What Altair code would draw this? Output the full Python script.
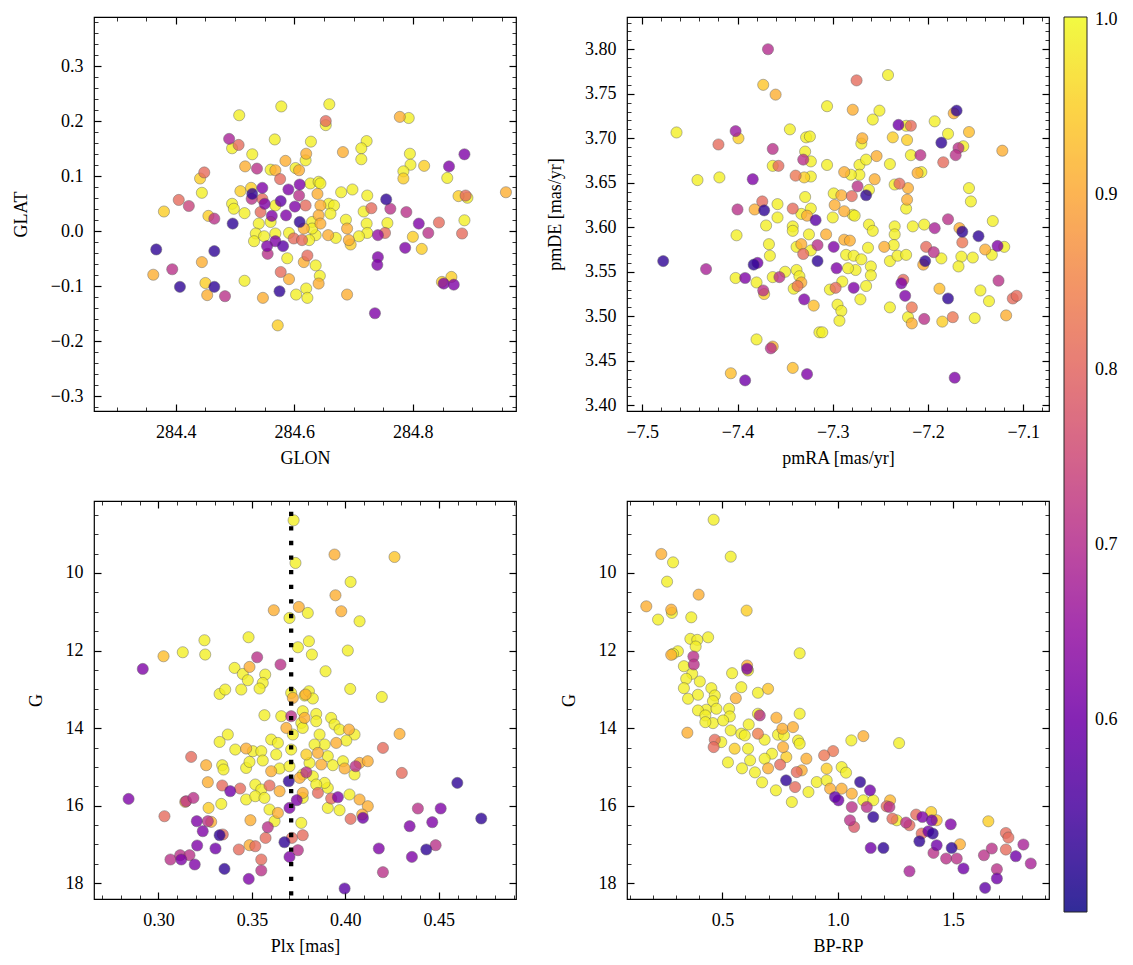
import altair as alt
import pandas as pd

FONT = "Liberation Serif"
FS = 18

# ---------------- panel 1: sky positions ----------------
glon = [284.578, 284.507, 284.490, 284.506, 284.495, 284.567, 284.529, 284.517, 284.537, 284.560,
        284.568, 284.585, 284.602, 284.608, 284.620, 284.619, 284.448, 284.441, 284.444, 284.576,
        284.405, 284.422, 284.380, 284.455, 284.465, 284.496, 284.509, 284.527, 284.529, 284.546,
        284.528, 284.546, 284.550, 284.495, 284.498, 284.516, 284.543, 284.562, 284.568, 284.577,
        284.590, 284.609, 284.608, 284.601, 284.586, 284.609, 284.619, 284.540, 284.560, 284.535,
        284.532, 284.549, 284.568, 284.591, 284.599, 284.613, 284.568, 284.554, 284.581, 284.555,
        284.588, 284.616, 284.622, 284.367, 284.465, 284.444, 284.394, 284.362, 284.577, 284.591,
        284.407, 284.450, 284.465, 284.453, 284.483, 284.516, 284.547, 284.575, 284.603, 284.620,
        284.572, 284.659, 284.653, 284.653, 284.628, 284.682, 284.722, 284.713, 284.713, 284.778,
        284.793, 284.795, 284.796, 284.819, 284.784, 284.784, 284.887, 284.861, 284.858, 284.957,
        284.877, 284.889, 284.892, 284.887, 284.883, 284.679, 284.698, 284.723, 284.755, 284.762,
        284.730, 284.717, 284.789, 284.810, 284.826, 284.844, 284.757, 284.753, 284.741, 284.722,
        284.723, 284.709, 284.687, 284.689, 284.692, 284.695, 284.670, 284.657, 284.800, 284.787,
        284.815, 284.741, 284.740, 284.636, 284.643, 284.641, 284.622, 284.689, 284.736, 284.865,
        284.852, 284.869, 284.849, 284.627, 284.641, 284.644, 284.639, 284.644, 284.658, 284.667,
        284.661, 284.641, 284.644, 284.630, 284.636, 284.616, 284.630, 284.625]
glat = [0.227, 0.211, 0.168, 0.157, 0.151, 0.167, 0.140, 0.118, 0.114, 0.112,
        0.111, 0.128, 0.115, 0.111, 0.141, 0.129, 0.107, 0.096, 0.070, 0.095,
        0.057, 0.046, 0.036, 0.028, 0.023, 0.014, 0.073, 0.079, 0.068, 0.079,
        0.059, 0.059, 0.050, 0.050, 0.041, 0.033, 0.035, 0.028, 0.047, 0.055,
        0.076, 0.085, 0.065, 0.045, 0.029, 0.017, 0.047, 0.014, 0.017, -0.004,
        -0.018, -0.009, -0.004, -0.003, -0.013, -0.016, -0.018, -0.027, -0.027, -0.041,
        -0.049, -0.056, -0.044, -0.033, -0.036, -0.056, -0.069, -0.079, -0.074, -0.087,
        -0.101, -0.094, -0.101, -0.116, -0.118, -0.090, -0.121, -0.109, -0.115, -0.104,
        -0.171, 0.231, 0.2005, 0.193, 0.163, 0.144, 0.164, 0.151, 0.131, 0.208,
        0.206, 0.141, 0.121, 0.119, 0.109, 0.096, 0.140, 0.118, 0.097, 0.071,
        0.064, 0.065, 0.061, 0.020, -0.004, 0.071, 0.076, 0.065, 0.058, 0.041,
        0.042, 0.036, 0.035, 0.014, -0.003, 0.016, 0.015, -0.003, -0.007, 0.014,
        -0.003, -0.009, 0.021, 0.005, -0.016, -0.024, -0.012, -0.007, -0.010, -0.030,
        -0.032, -0.047, -0.061, -0.062, -0.081, -0.095, -0.121, -0.115, -0.149, -0.083,
        -0.095, -0.097, -0.092, 0.087, 0.090, 0.087, 0.068, 0.047, 0.050, 0.047,
        0.032, 0.029, 0.014, 0.017, -0.007, 0.005, 0.005, -0.016]
p_sky = [.99, .99, .68, .81, .99, .99, .99, .91, .71, .99,
         .91, .91, .99, .91, .91, .99, .81, .95, .99, .81,
         .81, .74, .95, .95, .71, .52, .95, .95, .52, .62,
         .71, .81, .62, .99, .99, .99, .81, .62, .99, .58,
         .62, .62, .71, .62, .62, .52, .81, .99, .99, .99,
         .99, .99, .99, .99, .81, .81, .62, .62, .57, .71,
         .99, .91, .81, .52, .52, .91, .71, .91, .81, .91,
         .52, .95, .52, .91, .71, .99, .91, .52, .99, .99,
         .95, .99, .81, .99, .99, .91, .99, .99, .99, .91,
         .99, .99, .99, .95, .99, .95, .62, .62, .99, .91,
         .95, .81, .99, .99, .81, .99, .99, .99, .52, .71,
         .81, .99, .71, .62, .71, .81, .99, .81, .65, .99,
         .99, .99, .99, .91, .91, .95, .99, .91, .95, .62,
         .95, .62, .62, .99, .99, .91, .99, .91, .62, .95,
         .62, .62, .95, .99, .99, .99, .91, .91, .99, .99,
         .99, .91, .91, .99, .99, .91, .99, .99]

# ---------------- panel 2: proper motions ----------------
pmra = [-7.464, -7.368, -7.373, -7.360, -7.402, -7.399, -7.420, -7.442, -7.419, -7.384,
        -7.363, -7.345, -7.328, -7.324, -7.363, -7.357, -7.329, -7.331, -7.323, -7.339,
        -7.330, -7.323, -7.329, -7.400, -7.382, -7.374, -7.372, -7.358, -7.358, -7.370,
        -7.342, -7.333, -7.327, -7.323, -7.318, -7.342, -7.478, -7.433, -7.401, -7.402,
        -7.392, -7.383, -7.379, -7.367, -7.366, -7.380, -7.372, -7.373, -7.363, -7.356,
        -7.350, -7.342, -7.338, -7.333, -7.331, -7.325, -7.323, -7.316, -7.316, -7.338,
        -7.335, -7.333, -7.341, -7.337, -7.330, -7.320, -7.314, -7.380, -7.363, -7.365,
        -7.407, -7.392, -7.342, -7.327, -7.275, -7.242, -7.306, -7.279, -7.251, -7.258,
        -7.231, -7.223, -7.218, -7.170, -7.173, -7.193, -7.179, -7.157, -7.186, -7.168,
        -7.163, -7.171, -7.184, -7.122, -7.269, -7.270, -7.237, -7.222, -7.218, -7.208,
        -7.306, -7.288, -7.272, -7.265, -7.254, -7.240, -7.256, -7.272, -7.281, -7.274,
        -7.265, -7.262, -7.280, -7.291, -7.298, -7.288, -7.279, -7.299, -7.235, -7.230,
        -7.221, -7.222, -7.223, -7.211, -7.207, -7.157, -7.155, -7.132, -7.179, -7.193,
        -7.204, -7.216, -7.235, -7.262, -7.167, -7.164, -7.300, -7.277, -7.307, -7.299,
        -7.296, -7.288, -7.282, -7.286, -7.278, -7.276, -7.284, -7.258, -7.263, -7.270,
        -7.260, -7.260, -7.265, -7.271, -7.278, -7.297, -7.303, -7.290, -7.295, -7.291,
        -7.293, -7.311, -7.246, -7.235, -7.236, -7.240, -7.232, -7.223, -7.240, -7.226,
        -7.228, -7.224, -7.217, -7.221, -7.217, -7.204, -7.202, -7.194, -7.203, -7.205,
        -7.186, -7.185, -7.188, -7.179, -7.174, -7.164, -7.165, -7.168, -7.153, -7.147,
        -7.140, -7.133, -7.127, -7.120, -7.126, -7.145, -7.136, -7.151, -7.118, -7.111,
        -7.107, -7.172]
pmde = [3.7065, 3.800, 3.760, 3.749, 3.708, 3.700, 3.693, 3.653, 3.656, 3.654,
        3.688, 3.710, 3.701, 3.702, 3.669, 3.669, 3.685, 3.676, 3.674, 3.658,
        3.656, 3.657, 3.634, 3.620, 3.620, 3.629, 3.619, 3.626, 3.611, 3.602,
        3.621, 3.615, 3.613, 3.621, 3.608, 3.601, 3.562, 3.553, 3.591, 3.543,
        3.543, 3.558, 3.560, 3.581, 3.568, 3.538, 3.525, 3.529, 3.544, 3.544,
        3.550, 3.596, 3.578, 3.581, 3.570, 3.592, 3.574, 3.580, 3.562, 3.552,
        3.545, 3.538, 3.531, 3.534, 3.519, 3.512, 3.482, 3.474, 3.466, 3.464,
        3.436, 3.428, 3.442, 3.435, 3.765, 3.771, 3.736, 3.732, 3.731, 3.721,
        3.715, 3.714, 3.714, 3.731, 3.728, 3.719, 3.705, 3.707, 3.695, 3.689,
        3.691, 3.681, 3.673, 3.686, 3.700, 3.694, 3.701, 3.698, 3.681, 3.681,
        3.670, 3.662, 3.670, 3.676, 3.680, 3.671, 3.654, 3.659, 3.659, 3.646,
        3.636, 3.642, 3.635, 3.636, 3.625, 3.618, 3.614, 3.638, 3.648, 3.649,
        3.644, 3.631, 3.621, 3.661, 3.662, 3.644, 3.629, 3.607, 3.609, 3.599,
        3.603, 3.601, 3.601, 3.603, 3.599, 3.595, 3.611, 3.613, 3.592, 3.578,
        3.554, 3.586, 3.585, 3.569, 3.568, 3.552, 3.554, 3.596, 3.577, 3.564,
        3.556, 3.546, 3.534, 3.519, 3.532, 3.532, 3.530, 3.539, 3.513, 3.506,
        3.495, 3.482, 3.578, 3.592, 3.580, 3.562, 3.568, 3.569, 3.510, 3.541,
        3.537, 3.523, 3.510, 3.499, 3.492, 3.497, 3.578, 3.572, 3.562, 3.558,
        3.565, 3.494, 3.531, 3.520, 3.499, 3.583, 3.567, 3.556, 3.566, 3.590,
        3.575, 3.569, 3.579, 3.578, 3.540, 3.529, 3.517, 3.498, 3.501, 3.520,
        3.523, 3.431]
p_pm = [.99, .70, .94, .91, .66, .95, .81, .99, .99, .62,
        .71, .99, .99, .99, .99, .81, .99, .71, .99, .83,
        .95, .99, .99, .71, .91, .81, .52, .99, .99, .99,
        .81, .99, .91, .99, .57, .99, .52, .68, .99, .99,
        .62, .52, .60, .99, .99, .99, .95, .71, .99, .71,
        .99, .99, .99, .91, .81, .99, .99, .71, .52, .99,
        .99, .91, .99, .83, .62, .93, .99, .99, .91, .71,
        .93, .60, .93, .62, .81, .99, .99, .91, .99, .99,
        .60, .99, .81, .52, .91, .99, .99, .93, .52, .71,
        .99, .71, .81, .91, .91, .99, .95, .95, .99, .71,
        .99, .91, .99, .99, .91, .99, .91, .99, .99, .71,
        .52, .99, .81, .91, .91, .91, .99, .99, .99, .81,
        .91, .91, .99, .91, .99, .99, .99, .99, .71, .68,
        .99, .99, .99, .99, .91, .52, .99, .99, .91, .62,
        .62, .91, .91, .99, .99, .99, .99, .99, .99, .99,
        .99, .99, .99, .99, .62, .81, .99, .99, .99, .99,
        .99, .99, .91, .99, .99, .99, .99, .99, .99, .81,
        .62, .62, .83, .99, .91, .71, .81, .71, .52, .91,
        .99, .95, .93, .52, .83, .83, .99, .99, .99, .52,
        .91, .99, .62, .99, .71, .99, .99, .99, .91, .81,
        .81, .62]

# ---------------- panel 3: parallax vs G ----------------
plx = [0.3723, 0.3733, 0.3617, 0.3751, 0.3701, 0.3799, 0.3246, 0.3482, 0.3746, 0.3805,
       0.3027, 0.3130, 0.3250, 0.2916, 0.3528, 0.3653, 0.3487, 0.3407, 0.3451, 0.3571,
       0.3478, 0.3558, 0.3443, 0.3541, 0.3327, 0.3357, 0.3710, 0.3719, 0.3782, 0.3805,
       0.3567, 0.3657, 0.3710, 0.3684, 0.3719, 0.3764, 0.3787, 0.3772, 0.3371, 0.3327,
       0.3411, 0.3469, 0.3505, 0.3550, 0.3603, 0.3639, 0.3630, 0.3710, 0.3175, 0.3255,
       0.3341, 0.3348, 0.3469, 0.3487, 0.3558, 0.3603, 0.3648, 0.3701, 0.3772, 0.3791,
       0.3264, 0.3341, 0.3384, 0.3437, 0.3518, 0.3550, 0.3594, 0.3648, 0.3697, 0.3755,
       0.3469, 0.3518, 0.3567, 0.3143, 0.3148, 0.3187, 0.2840, 0.3268, 0.3336, 0.3594,
       0.3639, 0.3701, 0.3740, 0.3772, 0.3032, 0.3205, 0.3264, 0.3282, 0.3237, 0.3327,
       0.3344, 0.3492, 0.3585, 0.3573, 0.3621, 0.3714, 0.3764, 0.3772, 0.3674, 0.3701,
       0.3746, 0.3207, 0.3305, 0.3430, 0.3487, 0.3518, 0.3064, 0.3116, 0.3122, 0.3166,
       0.3194, 0.3353, 0.3550, 0.3550, 0.3483, 0.3942, 0.4263, 0.4028, 0.3947, 0.3978,
       0.4076, 0.3821, 0.4013, 0.3894, 0.4026, 0.4195, 0.3826, 0.3782, 0.3844, 0.3844,
       0.3772, 0.3924, 0.3942, 0.3969, 0.4019, 0.4049, 0.3862, 0.4005, 0.3951, 0.3889,
       0.3835, 0.4290, 0.4201, 0.3791, 0.3853, 0.3906, 0.3808, 0.3871, 0.3933, 0.3987,
       0.3996, 0.4055, 0.4076, 0.4120, 0.4049, 0.3826, 0.4302, 0.3772, 0.3853, 0.3906,
       0.3924, 0.3960, 0.3889, 0.3844, 0.3906, 0.3969, 0.4022, 0.4076, 0.4120, 0.4090,
       0.4094, 0.4028, 0.4599, 0.4727, 0.4388, 0.4510, 0.4344, 0.4465, 0.4483, 0.4433,
       0.4356, 0.4179, 0.4201, 0.3996]
g_plx = [8.642, 9.742, 10.961, 10.876, 11.160, 11.031, 11.735, 11.657, 11.915, 11.760,
         12.147, 12.044, 12.103, 12.474, 12.173, 12.361, 12.423, 12.448, 12.603, 12.619,
         12.765, 12.835, 13.005, 12.979, 13.119, 13.005, 13.093, 13.222, 13.160, 13.049,
         13.667, 13.693, 13.693, 13.995, 14.165, 13.866, 13.134, 13.564, 14.165, 14.356,
         14.552, 14.526, 14.595, 14.595, 14.294, 14.381, 14.680, 14.552, 14.742, 14.956,
         14.956, 15.067, 15.026, 14.871, 14.835, 15.111, 15.041, 14.982, 15.196, 15.137,
         15.394, 15.479, 15.626, 15.557, 15.454, 15.582, 15.479, 15.626, 15.369, 15.283,
         15.840, 15.755, 15.799, 15.902, 15.884, 15.799, 15.825, 16.057, 15.954, 16.098,
         16.186, 16.057, 15.858, 15.799, 16.271, 16.399, 16.399, 16.417, 16.657, 16.760,
         16.742, 16.374, 16.554, 16.830, 16.399, 16.830, 16.443, 16.760, 16.941, 17.320,
         17.147, 17.026, 17.103, 17.129, 17.018, 17.044, 17.387, 17.276, 17.387, 17.276,
         17.515, 17.629, 17.387, 17.670, 17.887, 9.526, 9.588, 10.232, 10.575, 10.987,
         11.245, 12.103, 12.000, 12.534, 12.990, 13.196, 13.237, 13.737, 13.634, 13.822,
         13.995, 13.737, 13.907, 14.036, 14.036, 14.165, 14.165, 14.320, 14.381, 14.423,
         14.423, 14.149, 14.510, 14.680, 14.639, 14.724, 14.897, 14.938, 14.956, 14.853,
         15.041, 14.982, 14.897, 14.853, 15.196, 15.240, 15.155, 15.670, 15.670, 15.541,
         15.814, 15.781, 15.412, 15.454, 16.057, 16.116, 15.711, 15.840, 16.013, 16.227,
         16.314, 16.340, 15.412, 16.330, 16.072, 16.072, 16.528, 16.425, 17.018, 17.129,
         17.320, 17.103, 17.714, 18.134]
p_plx = [.99, .99, .91, .91, .99, .99, .99, .99, .99, .99,
         .93, .99, .99, .62, .71, .71, .91, .99, .99, .99,
         .99, .99, .99, .99, .99, .99, .99, .91, .99, .99,
         .99, .99, .71, .91, .99, .99, .91, .99, .99, .99,
         .99, .91, .99, .99, .99, .99, .99, .99, .81, .91,
         .99, .99, .99, .99, .99, .91, .99, .99, .99, .71,
         .91, .81, .60, .81, .99, .99, .81, .91, .52, .91,
         .99, .99, .99, .91, .71, .71, .62, .95, .99, .99,
         .91, .62, .62, .99, .81, .62, .71, .91, .62, .52,
         .81, .91, .71, .81, .99, .81, .99, .81, .52, .62,
         .71, .62, .60, .81, .91, .81, .71, .71, .62, .71,
         .62, .52, .81, .71, .62, .91, .94, .99, .91, .91,
         .99, .99, .99, .99, .99, .99, .99, .91, .99, .99,
         .99, .99, .99, .99, .91, .99, .99, .99, .91, .99,
         .99, .91, .81, .95, .91, .99, .99, .91, .99, .99,
         .91, .71, .91, .91, .99, .99, .81, .91, .81, .99,
         .81, .62, .99, .99, .99, .99, .99, .91, .91, .91,
         .60, .81, .52, .52, .71, .62, .62, .62, .71, .52,
         .62, .62, .71, .57]
plx_mean = 0.371
plx_line_g = [8.42, 18.405]

# ---------------- panel 4: colour-magnitude diagram ----------------
bprp = [0.462, 0.536, 0.235, 0.286, 0.260, 0.397, 0.170, 0.278, 0.281, 0.221,
        0.365, 0.605, 0.438, 0.361, 0.391, 0.384, 0.307, 0.286, 0.278, 0.835,
        0.374, 0.376, 0.333, 0.369, 0.607, 0.607, 0.611, 0.542, 0.343, 0.402,
        0.333, 0.452, 0.467, 0.351, 0.394, 0.582, 0.558, 0.654, 0.698, 0.459,
        0.430, 0.474, 0.529, 0.532, 0.394, 0.426, 0.459, 0.426, 0.503, 0.348,
        0.536, 0.582, 0.614, 0.654, 0.662, 0.734, 0.835, 0.760, 0.806, 0.741,
        0.767, 0.654, 0.683, 0.597, 0.467, 0.462, 0.495, 0.553, 0.611, 0.763,
        0.828, 0.835, 1.059, 0.980, 0.941, 0.864, 0.777, 0.715, 0.683, 0.750,
        0.776, 0.822, 0.815, 0.844, 0.873, 0.801, 0.909, 1.111, 1.266, 0.952,
        1.017, 1.036, 0.952, 0.967, 1.017, 0.988, 1.003, 1.097, 1.140, 1.061,
        1.061, 1.053, 1.071, 1.126, 1.154, 1.111, 1.154, 1.227, 1.212, 1.224,
        1.237, 1.256, 1.143, 1.198, 1.296, 1.311, 1.340, 1.367, 1.405, 1.408,
        1.429, 1.490, 1.364, 1.393, 1.412, 1.354, 1.429, 1.415, 1.470, 1.494,
        1.516, 1.530, 1.545, 1.311, 1.634, 1.668, 1.690, 1.690, 1.639, 1.653,
        1.729, 1.740, 1.729, 1.772, 1.805, 1.837, 0.524, 0.585, 0.641, 0.698,
        0.672, 0.732, 0.620]
g_cmd = [8.628, 9.580, 9.511, 9.727, 10.224, 10.559, 10.860, 10.945, 11.030, 11.202,
         11.143, 10.970, 11.658, 11.699, 11.725, 11.897, 12.018, 12.085, 12.111, 12.070,
         12.154, 12.360, 12.404, 12.600, 12.386, 12.471, 12.515, 12.584, 12.728, 12.798,
         12.970, 12.970, 13.158, 13.243, 13.140, 12.945, 13.228, 13.089, 12.986, 13.305,
         13.526, 13.501, 13.501, 13.699, 13.544, 13.673, 13.871, 13.846, 13.802, 14.118,
         14.059, 14.144, 13.905, 13.629, 13.673, 13.732, 13.629, 14.015, 13.974, 14.170,
         14.188, 14.144, 14.299, 14.188, 14.299, 14.489, 14.360, 14.530, 14.530, 14.489,
         14.317, 14.402, 14.317, 14.592, 14.703, 14.788, 14.746, 14.659, 14.788, 14.942,
         15.346, 15.133, 15.519, 15.089, 15.647, 15.905, 15.390, 14.206, 14.386, 15.045,
         15.004, 15.148, 15.346, 15.560, 15.560, 15.776, 15.861, 15.390, 15.604, 15.689,
         16.033, 16.376, 16.548, 16.033, 16.291, 15.861, 15.861, 15.861, 16.015, 16.033,
         16.332, 16.376, 17.089, 17.089, 16.435, 16.504, 16.229, 16.291, 16.162, 16.376,
         16.376, 16.479, 16.718, 16.659, 16.718, 16.916, 17.019, 17.217, 17.362, 17.089,
         17.362, 16.994, 17.619, 17.689, 17.277, 17.104, 17.637, 17.876, 18.118, 16.402,
         16.703, 16.821, 17.130, 17.302, 17.001, 17.490, 14.883, 15.037, 15.140, 15.037,
         15.398, 15.604, 14.831]
p_cmd = [.99, .99, .91, .99, .99, .91, .91, .91, .99, .99,
         .99, .95, .99, .99, .99, .99, .99, .99, .91, .99,
         .71, .71, .99, .99, .91, .62, .99, .99, .99, .99,
         .99, .99, .99, .99, .99, .99, .91, .99, .94, .99,
         .99, .99, .99, .99, .99, .99, .99, .99, .99, .91,
         .99, .99, .99, .99, .71, .91, .99, .91, .91, .99,
         .99, .84, .99, .99, .81, .81, .99, .95, .99, .91,
         .99, .99, .99, .83, .83, .91, .95, .99, .99, .81,
         .52, .81, .81, .91, .99, .99, .99, .91, .99, .95,
         .99, .99, .99, .91, .91, .58, .60, .52, .60, .91,
         .71, .71, .78, .71, .52, .99, .99, .92, .81, .71,
         .81, .99, .60, .52, .71, .81, .81, .62, .95, .60,
         .93, .62, .81, .60, .52, .52, .60, .71, .71, .52,
         .71, .91, .60, .68, .71, .71, .71, .60, .58, .95,
         .81, .81, .81, .60, .68, .68, .99, .99, .99, .91,
         .99, .99, .99]

# ---------------- tick labels ----------------
glon_ticks = [284.4, 284.6, 284.8]
glat_ticks = [-0.3, -0.2, -0.1, 0.0, 0.1, 0.2, 0.3]
pmra_ticks = [-7.5, -7.4, -7.3, -7.2, -7.1]
pmde_ticks = [3.40, 3.45, 3.50, 3.55, 3.60, 3.65, 3.70, 3.75, 3.80]
plx_ticks = [0.30, 0.35, 0.40, 0.45]
g_ticks = [10, 12, 14, 16, 18]
bprp_ticks = [0.5, 1.0, 1.5]
cbar_ticks = [0.6, 0.7, 0.8, 0.9, 1.0]
cbar_range = [0.4905, 1.0015]


def minor(a, b, step):
    n = int(round((b - a) / step))
    return [round(a + i * step, 4) for i in range(n + 1)]


cscale = alt.Scale(scheme="plasma", domain=cbar_range)
legend = alt.Legend(type="gradient", title=None, orient="right", direction="vertical",
                    values=cbar_ticks, format=".1f", gradientLength=895, gradientThickness=23,
                    gradientStrokeColor="black", gradientStrokeWidth=1, gradientOpacity=0.85,
                    labelFont=FONT, labelFontSize=FS, labelColor="black", labelOffset=8,
                    labelBaseline="middle", offset=13)


def axis(orient, values, size, width, labels=False, fmt=None, title=None, tpad=6, lpad=8):
    kw = dict(orient=orient, values=values, offset=-size, tickSize=size, tickWidth=width,
              tickColor="black", domain=False, grid=False, labels=labels, labelOverlap=False,
              title=title)
    if labels:
        kw.update(format=fmt, labelPadding=lpad, labelFont=FONT, labelFontSize=FS,
                  labelColor="black")
    if title is not None:
        kw.update(titleFont=FONT, titleFontSize=FS, titleFontWeight="normal",
                  titleColor="black", titlePadding=tpad)
    return alt.Axis(**kw)


def panel(df, xf, yf, xs, ys, xmaj, ymaj, xmin, ymin, xfmt, yfmt, xtitle, ytitle, h, extra=()):
    base = alt.Chart(df)

    def ghost(xa, ya):
        return base.mark_point(opacity=0).encode(
            x=alt.X(xf, type="quantitative", scale=xs, axis=xa),
            y=alt.Y(yf, type="quantitative", scale=ys, axis=ya))

    pts = base.mark_circle(size=125, opacity=0.8, stroke="#4a4a4a", strokeWidth=0.5).encode(
        x=alt.X(xf, type="quantitative", scale=xs,
                axis=axis("bottom", xmaj, 7, 1.2, True, xfmt, xtitle, 8, 12)),
        y=alt.Y(yf, type="quantitative", scale=ys,
                axis=axis("left", ymaj, 7, 1.2, True, yfmt, ytitle, 20, 11)),
        color=alt.Color("p", type="quantitative", scale=cscale, legend=legend),
        order=alt.Order("p", type="quantitative", sort="descending"))
    layers = [ghost(axis("bottom", xmin, 4, 0.8), axis("left", ymin, 4, 0.8)),
              ghost(axis("top", xmaj, 7, 1.2), axis("right", ymaj, 7, 1.2)),
              ghost(axis("top", xmin, 4, 0.8), axis("right", ymin, 4, 0.8)),
              pts] + list(extra)
    return alt.layer(*layers).resolve_axis(x="independent", y="independent").properties(
        width=422, height=h)


df_sky = pd.DataFrame({"glon": glon, "glat": glat, "p": p_sky})
df_pm = pd.DataFrame({"pmra": pmra, "pmde": pmde, "p": p_pm})
df_plx = pd.DataFrame({"plx": plx, "g": g_plx, "p": p_plx})
df_cmd = pd.DataFrame({"bprp": bprp, "g": g_cmd, "p": p_cmd})

xs_tl = alt.Scale(domain=[284.262, 284.974], nice=False, zero=False)
ys_tl = alt.Scale(domain=[-0.3267, 0.3896], nice=False, zero=False)
xs_tr = alt.Scale(domain=[-7.516, -7.073], nice=False, zero=False)
ys_tr = alt.Scale(domain=[3.3936, 3.8362], nice=False, zero=False)
xs_bl = alt.Scale(domain=[0.2655, 0.4913], nice=False, zero=False)
ys_g = alt.Scale(domain=[8.145, 18.405], nice=False, zero=False, reverse=True)
xs_br = alt.Scale(domain=[0.0863, 1.916], nice=False, zero=False)

tl = panel(df_sky, "glon", "glat", xs_tl, ys_tl, glon_ticks, glat_ticks,
           minor(284.25, 284.95, 0.05), minor(-0.32, 0.38, 0.02), ".1f", ".1f",
           "GLON", "GLAT", 394)
tr = panel(df_pm, "pmra", "pmde", xs_tr, ys_tr, pmra_ticks, pmde_ticks,
           minor(-7.50, -7.08, 0.02), minor(3.40, 3.83, 0.01), ".1f", ".2f",
           "pmRA [mas/yr]", "pmDE [mas/yr]", 394)

rule_df = pd.DataFrame({"plx": [plx_mean], "g_top": [plx_line_g[0]], "g_bot": [plx_line_g[1]]})
rule = alt.Chart(rule_df).mark_rule(color="black", strokeWidth=4.3, strokeDash=[4.3, 10.3]).encode(
    x=alt.X("plx:Q", scale=xs_bl, axis=None),
    y=alt.Y("g_top:Q", scale=ys_g, axis=None),
    y2="g_bot:Q")

bl = panel(df_plx, "plx", "g", xs_bl, ys_g, plx_ticks, g_ticks,
           minor(0.27, 0.49, 0.01), minor(8.5, 18.0, 0.5), ".2f", "d",
           "Plx [mas]", "G", 398, extra=[rule])
br = panel(df_cmd, "bprp", "g", xs_br, ys_g, bprp_ticks, g_ticks,
           minor(0.1, 1.9, 0.1), minor(8.5, 18.0, 0.5), ".1f", "d",
           "BP-RP", "G", 398)

chart = alt.concat(tl, tr, bl, br, columns=2, spacing={"row": 31, "column": 27}).properties(
    padding={"left": 3, "top": 7, "right": 5, "bottom": 5}
).configure_view(stroke="black", strokeWidth=1.2)

chart.save("out.html", embed_options={"renderer": "svg", "actions": False})
